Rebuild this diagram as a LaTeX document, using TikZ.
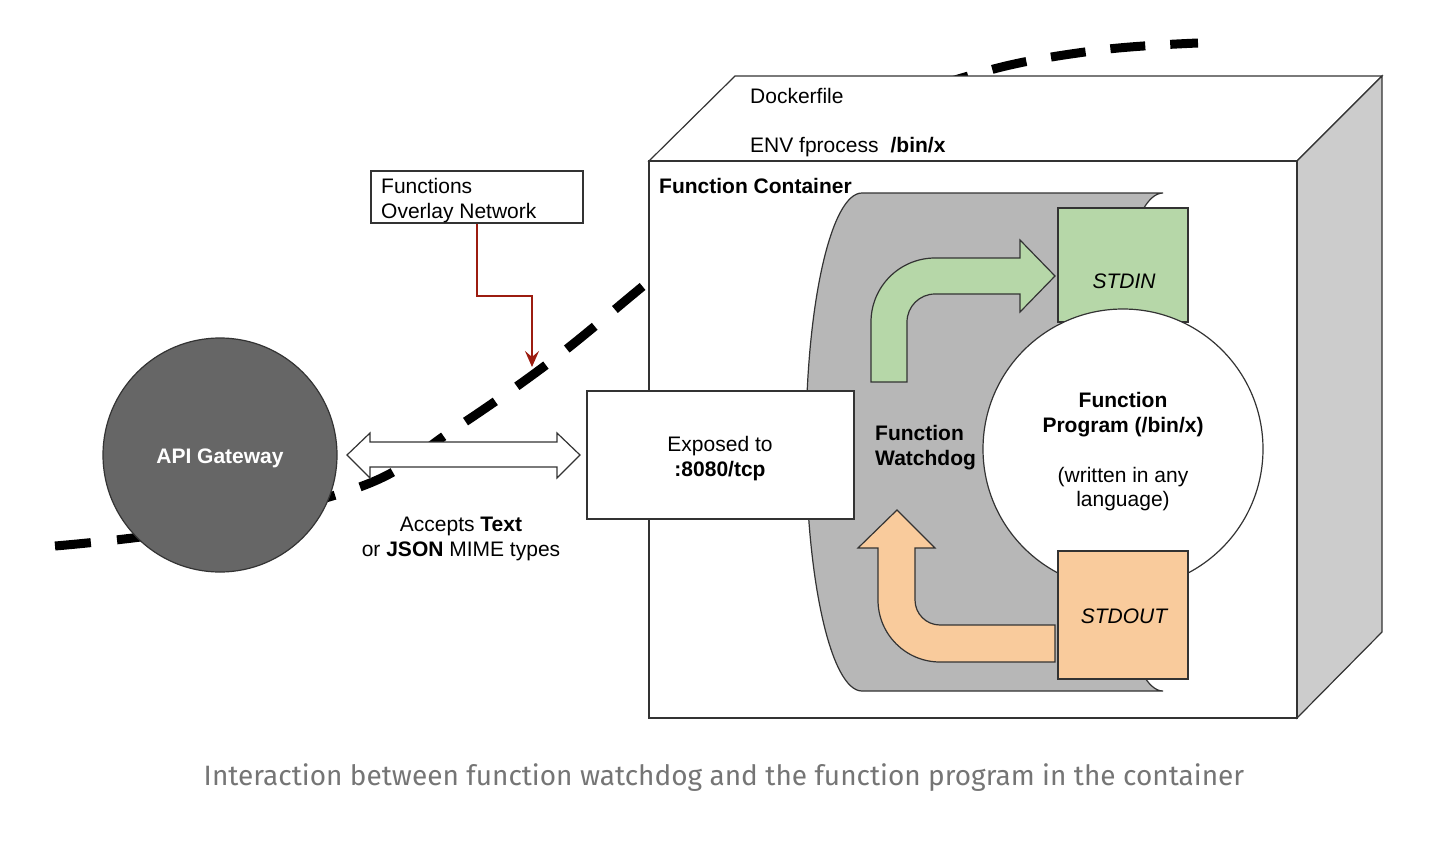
\documentclass[tikz,border=0pt]{standalone}
\usepackage{fontspec}
\setmainfont{Liberation Sans}
\newfontfamily\capfont{Fira Sans}
\usetikzlibrary{arrows.meta}
\definecolor{lineC}{HTML}{333333}
\definecolor{sideC}{HTML}{CCCCCC}
\definecolor{wdC}{HTML}{B7B7B7}
\definecolor{inC}{HTML}{B6D7A8}
\definecolor{outC}{HTML}{F9CB9C}
\definecolor{apiC}{HTML}{666666}
\definecolor{redC}{HTML}{9C1C10}
\definecolor{capC}{HTML}{757575}
\begin{document}
\begin{tikzpicture}[x=1pt,y=-1pt,
  txt/.style={font=\fontsize{21}{25}\selectfont, inner sep=0pt, anchor=base},
  face/.style={draw=lineC, line width=1.2pt},
  dashline/.style={line width=9pt, line cap=butt},
  bentarrow/.style={draw=lineC, line width=1.2pt}
]
\useasboundingbox (0,0) rectangle (1456,846);

% dashed network line (same curve, two clipped parts with their own dash phase)
\begin{scope}
  \clip (0,0) rectangle (700,846);
  \draw[dashline, dash pattern=on 36pt off 26.3pt] plot[smooth, tension=0.6] coordinates {(55,546) (200,528) (365,485) (450,432) (550,362) (648,282) (760,190) (880,110) (990,70) (1100,50) (1198,43)};
\end{scope}
\begin{scope}
  \clip (700,0) rectangle (1456,846);
  \draw[dashline, dash pattern=on 35pt off 25pt, dash phase=5pt] plot[smooth, tension=0.6] coordinates {(55,546) (200,528) (365,485) (450,432) (550,362) (648,282) (760,190) (880,110) (990,70) (1100,50) (1198,43)};
\end{scope}

% container box
\filldraw[face, fill=white] (649,161) -- (735,76) -- (1382,76) -- (1297,161) -- cycle;
\filldraw[face, fill=sideC] (1297,161) -- (1382,76) -- (1382,632) -- (1297,718) -- cycle;
\filldraw[face, fill=white] (649,161) rectangle (1297,718);

\node[txt, anchor=base west] (docker) at (750,103) {Dockerfile};
\node[txt, anchor=base west] (env) at (750,152) {ENV fprocess\hspace{12pt}\textbf{/bin/x}};
\node[txt, anchor=base west] (fc) at (659,193) {\textbf{Function Container}};

% watchdog shape
\filldraw[face, fill=wdC] (862,193) -- (1163,193)
  arc[start angle=270, end angle=90, x radius=56, y radius=249]
  -- (862,691)
  arc[start angle=90, end angle=270, x radius=56, y radius=249] -- cycle;

% STDIN, program, STDOUT
\node[face, fill=inC, minimum width=130pt, minimum height=114pt, inner sep=0pt] (stdin) at (1123,265) {};
\node[txt, font=\fontsize{21}{25}\selectfont\itshape] (stdinlbl) at (1124,288) {STDIN};
\node[face, circle, fill=white, minimum size=280pt, inner sep=0pt] (prog) at (1123,449) {};
\node[txt] (p1) at (1123,407) {\textbf{Function}};
\node[txt] (p2) at (1123,432) {\textbf{Program (/bin/x)}};
\node[txt] (p3) at (1123,482) {(written in any};
\node[txt] (p4) at (1123,506) {language)};
\node[face, fill=outC, minimum width=130pt, minimum height=128pt, inner sep=0pt] (stdout) at (1123,615) {};
\node[txt, font=\fontsize{21}{25}\selectfont\itshape] (stdoutlbl) at (1124,623) {STDOUT};

% green bent arrow
\filldraw[bentarrow, fill=inC] (871,382) -- (871,322)
  arc[start angle=180, end angle=270, radius=64]
  -- (1020,258) -- (1020,240) -- (1055,276) -- (1020,312) -- (1020,294) -- (935,294)
  arc[start angle=270, end angle=180, radius=28]
  -- (907,382) -- cycle;

% orange bent arrow
\filldraw[bentarrow, fill=outC] (1055,625) -- (940,625)
  arc[start angle=90, end angle=180, radius=25]
  -- (915,548) -- (935,548) -- (897,510) -- (858,548) -- (878,548) -- (878,600)
  arc[start angle=180, end angle=90, radius=62]
  -- (1055,662) -- cycle;

\node[txt, anchor=base west] (wd1) at (875,440) {\textbf{Function}};
\node[txt, anchor=base west] (wd2) at (875,465) {\textbf{Watchdog}};

% exposed box
\node[face, fill=white, minimum width=267pt, minimum height=128pt, inner sep=0pt] (exp) at (720.5,455) {};
\node[txt] (e1) at (720,451) {Exposed to};
\node[txt] (e2) at (720,476) {\textbf{:8080/tcp}};

% API gateway
\node[face, circle, fill=apiC, minimum size=234pt, inner sep=0pt] (api) at (220,455) {};
\node[txt, text=white] (apilbl) at (220,463) {\textbf{API Gateway}};

% double arrow
\filldraw[face, fill=white] (347,455) -- (370,433) -- (370,442) -- (557,442) -- (557,433)
  -- (580,455) -- (557,478) -- (557,467) -- (370,467) -- (370,478) -- cycle;

\node[txt] (acc1) at (461,531) {Accepts \textbf{Text}};
\node[txt] (acc2) at (461,556) {or \textbf{JSON} MIME types};

% overlay network
\node[face, fill=white, minimum width=212pt, minimum height=52pt, inner sep=0pt] (ovl) at (477,197) {};
\node[txt, anchor=base west] (o1) at (381,193) {Functions};
\node[txt, anchor=base west] (o2) at (381,218) {Overlay Network};
\coordinate (ovltip) at (532,367);
\draw[draw=redC, line width=2pt, -{Stealth[length=16pt, width=14pt, inset=6pt]}] (ovl.south) -- ++(0,72) -| (ovltip);

% caption
\node[font=\capfont\fontsize{28}{31}\selectfont, text=capC, inner sep=0pt, anchor=base] (cap) at (724,785) {Interaction between function watchdog and the function program in the container};
\end{tikzpicture}
\end{document}
